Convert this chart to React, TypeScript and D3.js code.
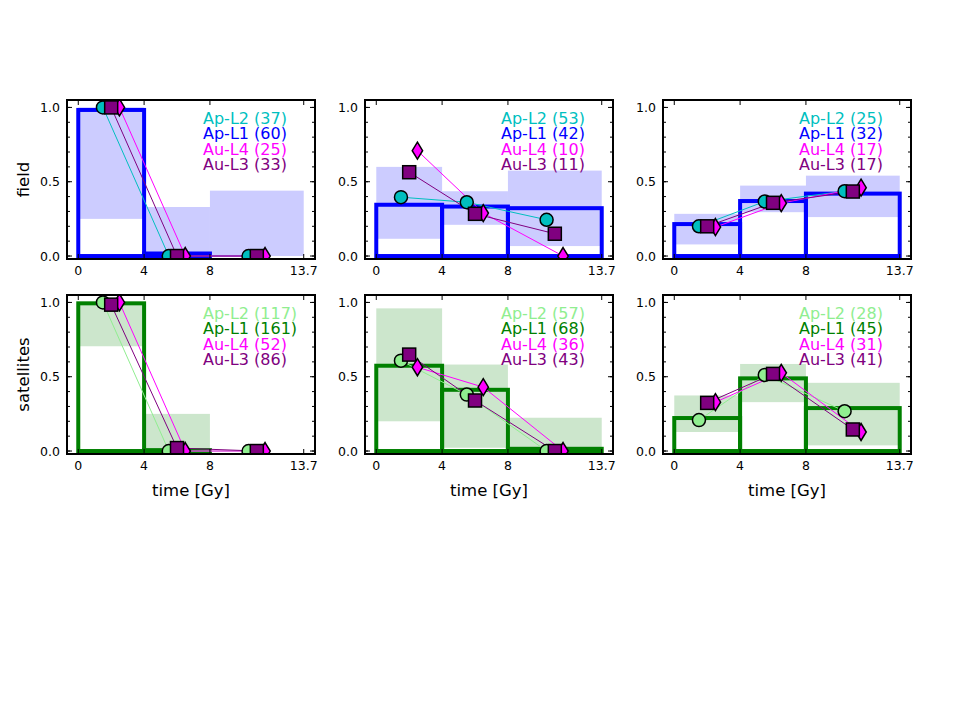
import React from 'react';
import * as d3 from 'd3';

// bin edges shared by every panel (Gy)
const binEdges = [0, 4, 8, 13.7];
const xTicks = [0, 4, 8, 13.7];
const yMajor = [0, 0.5, 1.0];
const yMinor = d3.range(0, 1.0001, 0.1);

const rowLabels = ['field', 'satellites'];
const seriesNames = ['Ap-L2', 'Ap-L1', 'Au-L4', 'Au-L3'];

// counts shown in the legends, panels in reading order
const counts = [
  [37, 60, 25, 33],
  [53, 42, 10, 11],
  [25, 32, 17, 17],
  [117, 161, 52, 86],
  [57, 68, 36, 43],
  [28, 45, 31, 41],
];

// Ap-L1 fractional histogram per panel
const histL1 = [
  [0.983, 0.017, 0.0],
  [0.345, 0.333, 0.322],
  [0.215, 0.37, 0.42],
  [0.994, 0.006, 0.0],
  [0.574, 0.412, 0.015],
  [0.222, 0.489, 0.289],
];

// shaded range per bin
const bandLow = [
  [0.25, 0.0, 0.0],
  [0.116, 0.21, 0.067],
  [0.078, 0.295, 0.262],
  [0.705, 0.0, 0.0],
  [0.2, 0.022, 0.0],
  [0.128, 0.329, 0.038],
];
const bandHigh = [
  [1.0, 0.33, 0.44],
  [0.6, 0.436, 0.575],
  [0.284, 0.474, 0.541],
  [1.0, 0.25, 0.0],
  [0.96, 0.582, 0.224],
  [0.374, 0.586, 0.459],
];

// point series
const apL2 = [
  [1.0, 0.0, 0.0],
  [0.396, 0.362, 0.244],
  [0.2, 0.367, 0.436],
  [1.0, 0.0, 0.0],
  [0.608, 0.38, 0.0],
  [0.208, 0.512, 0.268],
];
const auL4 = [
  [1.0, 0.0, 0.0],
  [0.709, 0.289, 0.0],
  [0.195, 0.356, 0.46],
  [1.0, 0.0, 0.0],
  [0.564, 0.43, 0.0],
  [0.329, 0.526, 0.128],
];
const auL3 = [
  [1.0, 0.0, 0.0],
  [0.564, 0.284, 0.15],
  [0.2, 0.358, 0.434],
  [0.985, 0.02, 0.0],
  [0.649, 0.34, 0.0],
  [0.324, 0.519, 0.145],
];

const rowColors = [
  { l2: '#00bfbf', l1: '#0000ff' },
  { l2: '#90ee90', l1: '#008000' },
];
const magenta = '#ff00ff';
const purple = '#800080';

const W = 960;
const H = 720;
const colLeft = [67, 365, 663];
const rowTop = [100, 295];
const pw = 248;
const ph = 159;
const font = 'DejaVu Sans, sans-serif';

const centers = binEdges.slice(1).map((e, i) => (e + binEdges[i]) / 2);

function Panel({ idx }: { idx: number }) {
  const row = Math.floor(idx / 3);
  const col = idx % 3;
  const left = colLeft[col];
  const top = rowTop[row];
  const x = d3.scaleLinear().domain([-0.685, 14.385]).range([left, left + pw]);
  const y = d3.scaleLinear().domain([-0.02, 1.05]).range([top + ph, top]);
  const colors = rowColors[row];
  const clipId = `clip-${idx}`;

  const line = d3.line<[number, number]>().x(d => x(d[0])).y(d => y(d[1]));
  const pts = (vals: number[], off: number) =>
    vals.map((v, i) => [centers[i] + off, v] as [number, number]);

  const l2 = pts(apL2[idx], -0.5);
  const l3 = pts(auL3[idx], 0);
  const l4 = pts(auL4[idx], 0.5);

  const diamond = (cx: number, cy: number) =>
    `M${cx},${cy - 8.5}L${cx + 5.2},${cy}L${cx},${cy + 8.5}L${cx - 5.2},${cy}Z`;

  const legendColors = [colors.l2, colors.l1, magenta, purple];

  return (
    <g>
      <defs>
        <clipPath id={clipId}>
          <rect x={left} y={top} width={pw} height={ph} />
        </clipPath>
      </defs>
      <g clipPath={`url(#${clipId})`}>
        {binEdges.slice(1).map((e, i) => (
          <rect
            key={`b${i}`}
            x={x(binEdges[i])}
            y={y(bandHigh[idx][i])}
            width={x(e) - x(binEdges[i])}
            height={Math.max(0, y(bandLow[idx][i]) - y(bandHigh[idx][i]))}
            fill={colors.l1}
            fillOpacity={0.2}
          />
        ))}
        {binEdges.slice(1).map((e, i) => (
          <rect
            key={`h${i}`}
            x={x(binEdges[i])}
            y={y(histL1[idx][i])}
            width={x(e) - x(binEdges[i])}
            height={y(0) - y(histL1[idx][i])}
            fill="none"
            stroke={colors.l1}
            strokeWidth={4}
          />
        ))}
        <path d={line(l2) || ''} fill="none" stroke={colors.l2} strokeWidth={1} />
        <path d={line(l4) || ''} fill="none" stroke={magenta} strokeWidth={1} />
        <path d={line(l3) || ''} fill="none" stroke={purple} strokeWidth={1} />
        {l2.map((p, i) => (
          <circle key={`c${i}`} cx={x(p[0])} cy={y(p[1])} r={6.5} fill={colors.l2} stroke="#000" strokeWidth={1.5} />
        ))}
        {l4.map((p, i) => (
          <path key={`d${i}`} d={diamond(x(p[0]), y(p[1]))} fill={magenta} stroke="#000" strokeWidth={1.5} />
        ))}
        {l3.map((p, i) => (
          <rect key={`s${i}`} x={x(p[0]) - 6.5} y={y(p[1]) - 6.5} width={13} height={13} fill={purple} stroke="#000" strokeWidth={1.5} />
        ))}
      </g>

      {/* ticks, all pointing inward */}
      {xTicks.map(t => (
        <g key={`xt${t}`}>
          <line x1={x(t)} x2={x(t)} y1={top + ph} y2={top + ph - 5} stroke="#000" strokeWidth={1} />
          <line x1={x(t)} x2={x(t)} y1={top} y2={top + 5} stroke="#000" strokeWidth={1} />
          <text x={x(t)} y={top + ph + 16} fontSize={12.5} fontFamily={font} textAnchor="middle">
            {t}
          </text>
        </g>
      ))}
      {yMinor.map((t, i) => (
        <g key={`ym${i}`}>
          <line x1={left} x2={left + 3} y1={y(t)} y2={y(t)} stroke="#000" strokeWidth={1} />
          <line x1={left + pw} x2={left + pw - 3} y1={y(t)} y2={y(t)} stroke="#000" strokeWidth={1} />
        </g>
      ))}
      {yMajor.map(t => (
        <g key={`yt${t}`}>
          <line x1={left} x2={left + 5} y1={y(t)} y2={y(t)} stroke="#000" strokeWidth={1} />
          <line x1={left + pw} x2={left + pw - 5} y1={y(t)} y2={y(t)} stroke="#000" strokeWidth={1} />
          <text x={left - 7} y={y(t) + 4.5} fontSize={12.5} fontFamily={font} textAnchor="end">
            {t.toFixed(1)}
          </text>
        </g>
      ))}
      <rect x={left} y={top} width={pw} height={ph} fill="none" stroke="#000" strokeWidth={2} />

      {seriesNames.map((n, i) => (
        <text
          key={n}
          x={left + 136}
          y={top + 24 + i * 15.3}
          fontSize={16}
          fontFamily={font}
          fill={legendColors[i]}
        >
          {`${n} (${counts[idx][i]})`}
        </text>
      ))}

      {col === 0 && (
        <text
          transform={`translate(29,${top + ph / 2}) rotate(-90)`}
          fontSize={16.5}
          fontFamily={font}
          textAnchor="middle"
        >
          {rowLabels[row]}
        </text>
      )}
      {row === 1 && (
        <text x={left + pw / 2} y={top + ph + 42} fontSize={16.5} fontFamily={font} textAnchor="middle">
          time [Gy]
        </text>
      )}
    </g>
  );
}

export default function App() {
  return (
    <svg width={W} height={H} style={{ display: 'block', position: 'absolute', left: 0, top: 0 }}>
      <rect width={W} height={H} fill="#fff" />
      {d3.range(6).map(i => (
        <Panel key={i} idx={i} />
      ))}
    </svg>
  );
}
